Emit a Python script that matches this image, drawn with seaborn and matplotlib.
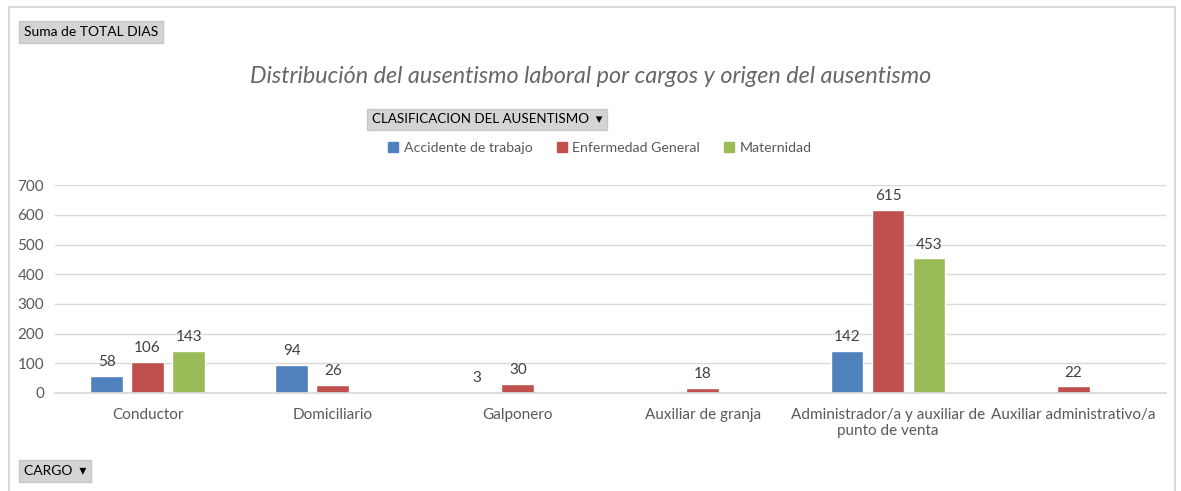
import matplotlib.pyplot as plt
import matplotlib.patches as mpatches
import pandas as pd
import numpy as np
import seaborn as sns

cargos = ['Conductor', 'Domiciliario', 'Galponero', 'Auxiliar de granja',
          'Administrador/a y auxiliar de\npunto de venta', 'Auxiliar administrativo/a']
clasificaciones = ['Accidente de trabajo', 'Enfermedad General', 'Maternidad']
accidente = [58, 94, 3, np.nan, 142, np.nan]
enfermedad = [106, 26, 30, 18, 615, 22]
maternidad = [143, np.nan, np.nan, np.nan, 453, np.nan]
colores = ['#4f81bd', '#c0504d', '#9bbb59']

rows = []
for serie, valores in zip(clasificaciones, [accidente, enfermedad, maternidad]):
    for cargo, v in zip(cargos, valores):
        rows.append({'CARGO': cargo, 'CLASIFICACION': serie, 'DIAS': v})
df = pd.DataFrame(rows).dropna()

sns.set_theme(style='white')
plt.rcParams['font.family'] = ['Lato', 'DejaVu Sans']
texto = '#595959'

fig = plt.figure(figsize=(11.81, 4.91), dpi=100)
ax = fig.add_axes([0.0466, 0.1996, 0.9404, 0.4234])

sns.barplot(data=df, x='CARGO', y='DIAS', hue='CLASIFICACION', order=cargos,
            hue_order=clasificaciones, palette=colores, width=0.665, gap=0.2,
            saturation=1, ax=ax, legend=False, errorbar=None)

for cont in ax.containers:
    ax.bar_label(cont, labels=[f'{b.get_height():.0f}' for b in cont], padding=5,
                 fontsize=11, color='#404040')

ax.set_ylim(0, 700)
ax.set_yticks(range(0, 701, 100))
ax.yaxis.grid(True, color='#d9d9d9', linewidth=1)
ax.set_axisbelow(True)
for s in ['top', 'right', 'left']:
    ax.spines[s].set_visible(False)
ax.spines['bottom'].set_color('#d9d9d9')
ax.set_xlabel('')
ax.set_ylabel('')
ax.tick_params(axis='both', labelsize=11, labelcolor=texto, length=0)
ax.tick_params(axis='x', pad=11)
ax.tick_params(axis='y', pad=8)
ax.set_xlim(-0.5, 5.5)

# marco del grafico
fig.patches.append(mpatches.Rectangle((0.008, -0.01), 0.987, 0.995, transform=fig.transFigure,
                                      fill=False, edgecolor='#d9d9d9', linewidth=1.5))

fig.text(0.5, 0.845, 'Distribución del ausentismo laboral por cargos y origen del ausentismo',
         ha='center', va='center', fontsize=16.8, style='italic', color='#666666')

boton = dict(boxstyle='square,pad=0.35', facecolor='#d4d4d4', edgecolor='#c8c8c8')
fig.text(0.02, 0.935, 'Suma de TOTAL DIAS', fontsize=10, color='black', va='center', bbox=boton)
fig.text(0.315, 0.757, 'CLASIFICACION DEL AUSENTISMO  \u25be', fontsize=9.6, color='black',
         va='center', bbox=boton)
fig.text(0.02, 0.04, 'CARGO  \u25be', fontsize=10, color='black', va='center', bbox=boton)

handles = [mpatches.Patch(color=c, label=l) for c, l in zip(colores, clasificaciones)]
fig.legend(handles=handles, loc='center', bbox_to_anchor=(0.508, 0.698), ncol=3, frameon=False,
           fontsize=10.2, handlelength=0.7, handleheight=0.7, handletextpad=0.4,
           columnspacing=1.7, labelcolor=texto)

fig.savefig('out.png', dpi=100)
